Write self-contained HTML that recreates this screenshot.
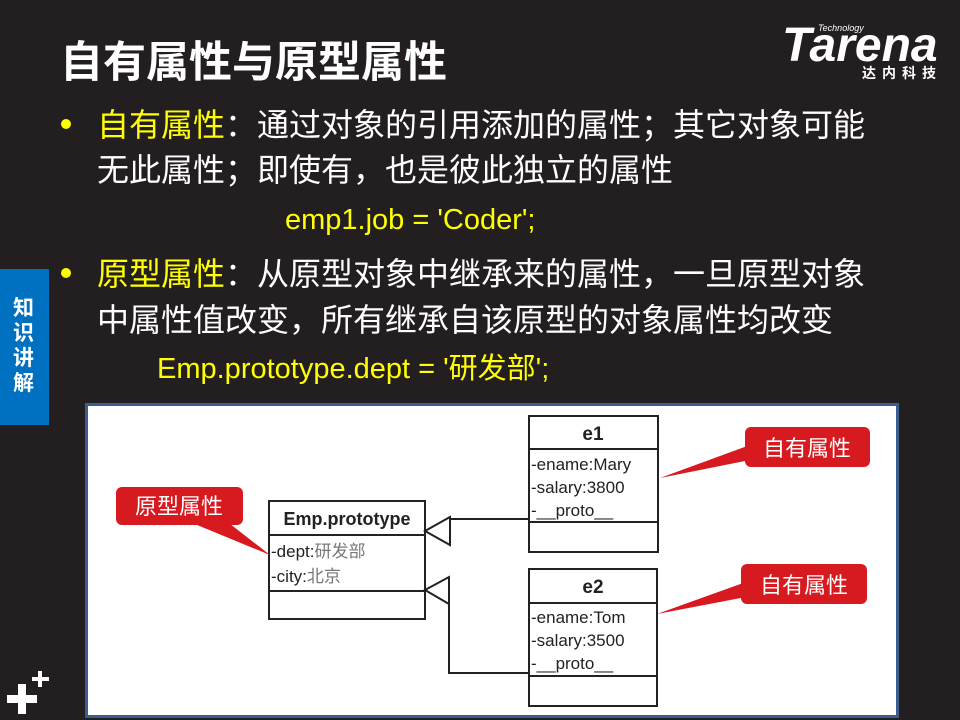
<!DOCTYPE html>
<html><head><meta charset="utf-8"><style>
body{margin:0;width:960px;height:720px;background:#231f20;position:relative;overflow:hidden;font-family:"Liberation Sans","Noto Sans CJK SC",sans-serif}
.t{position:absolute;white-space:nowrap;color:#fff;line-height:1}
.y{color:#ffff00}
.m{font-size:32px}
.d{position:absolute;width:10px;height:10px;border-radius:50%;background:#ffff00}
</style></head><body>
<div class="t" style="left:60px;top:42px;font-size:43px;font-weight:bold">自有属性与原型属性</div>
<div class="t" style="left:782px;top:22px;font-size:48px;font-weight:bold;font-style:italic;letter-spacing:0px">Tarena</div>
<div class="t" style="left:818px;top:24px;font-size:9px;font-style:italic">Technology</div>
<div class="t" style="left:862px;top:66px;font-size:14px;font-weight:bold;letter-spacing:6px">达内科技</div>

<div class="d" style="left:61px;top:119px"></div>
<div class="t m" style="left:97px;top:109px"><span class="y">自有属性</span>：通过对象的引用添加的属性；其它对象可能</div>
<div class="t m" style="left:97px;top:154px">无此属性；即使有，也是彼此独立的属性</div>
<div class="t y" style="left:285px;top:206px;font-size:29px">emp1.job = 'Coder';</div>
<div class="d" style="left:61px;top:268px"></div>
<div class="t m" style="left:97px;top:258px"><span class="y">原型属性</span>：从原型对象中继承来的属性，一旦原型对象</div>
<div class="t m" style="left:97px;top:304px">中属性值改变，所有继承自该原型的对象属性均改变</div>
<div class="t y" style="left:157px;top:355px;font-size:29px">Emp.prototype.dept = '研发部';</div>

<div style="position:absolute;left:0;top:269px;width:49px;height:156px;background:#0070c0"></div>
<div class="t" style="left:13px;top:296px;font-size:21px;font-weight:bold;line-height:25px;width:24px;white-space:normal">知识讲解</div>
<div style="position:absolute;left:7px;top:695px;width:30px;height:8px;background:#fff"></div>
<div style="position:absolute;left:18px;top:684px;width:8px;height:30px;background:#fff"></div>
<div style="position:absolute;left:32px;top:677px;width:17px;height:4px;background:#fff"></div>
<div style="position:absolute;left:38px;top:671px;width:4px;height:16px;background:#fff"></div>

<div style="position:absolute;left:85px;top:403px;width:808px;height:309px;background:#fff;border:3px solid #3c5d8c"></div>
<svg style="position:absolute;left:0;top:0" width="960" height="720" font-family="Liberation Sans, Noto Sans CJK SC, sans-serif">
<g fill="none" stroke="#222" stroke-width="2">
<rect x="529" y="416" width="129" height="136"/><line x1="529" y1="449" x2="658" y2="449"/><line x1="529" y1="522" x2="658" y2="522"/>
<rect x="529" y="569" width="128" height="137"/><line x1="529" y1="603" x2="657" y2="603"/><line x1="529" y1="676" x2="657" y2="676"/>
<rect x="269" y="501" width="156" height="118"/><line x1="269" y1="535" x2="425" y2="535"/><line x1="269" y1="591" x2="425" y2="591"/>
<polyline points="529,519 450,519 450,531"/>
<polygon points="425,531 450,517 450,545"/>
<polyline points="529,673 449,673 449,590"/>
<polygon points="425,590 449,577 449,604"/>
</g>
<g font-size="17" fill="#222">
<text x="593" y="440" text-anchor="middle" font-weight="bold" font-size="19">e1</text>
<text x="531" y="470">-ename:Mary</text><text x="531" y="493">-salary:3800</text><text x="531" y="516">-__proto__</text>
<text x="593" y="593" text-anchor="middle" font-weight="bold" font-size="19">e2</text>
<text x="531" y="623">-ename:Tom</text><text x="531" y="646">-salary:3500</text><text x="531" y="669">-__proto__</text>
<text x="347" y="525" text-anchor="middle" font-weight="bold" font-size="18">Emp.prototype</text>
<text x="271" y="557">-dept:<tspan fill="#777">研发部</tspan></text>
<text x="271" y="582">-city:<tspan fill="#777">北京</tspan></text>
</g>
<g fill="#d71920">
<rect x="116" y="487" width="127" height="38" rx="6"/><polygon points="185,520 225,520 270,555"/>
<rect x="745" y="427" width="125" height="40" rx="6"/><polygon points="750,445 750,460 660,478"/>
<rect x="741" y="564" width="126" height="40" rx="6"/><polygon points="746,582 746,597 657,614"/>
</g>
<g fill="#fff" font-size="22">
<text x="179" y="514" text-anchor="middle">原型属性</text>
<text x="807" y="456" text-anchor="middle">自有属性</text>
<text x="804" y="593" text-anchor="middle">自有属性</text>
</g>
</svg>
</body></html>
